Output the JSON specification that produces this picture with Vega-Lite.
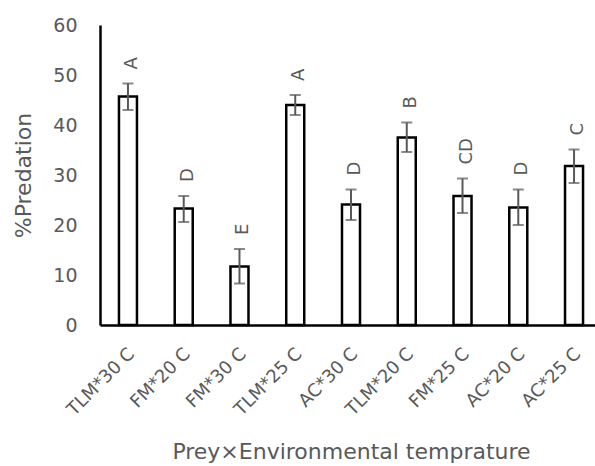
{
  "$schema": "https://vega.github.io/schema/vega-lite/v6.json",
  "width": 495,
  "height": 300,
  "autosize": {"type": "none"},
  "padding": {"left": 100, "top": 25, "right": 0, "bottom": 141},
  "background": "white",
  "config": {"view": {"stroke": null}, "font": "DejaVu Sans"},
  "data": {
    "values": [
      {"treatment": "TLM*30 C", "mean": 45.7, "lower": 43.0, "upper": 48.3, "group": "A"},
      {"treatment": "FM*20 C", "mean": 23.3, "lower": 20.6, "upper": 25.8, "group": "D"},
      {"treatment": "FM*30 C", "mean": 11.7, "lower": 8.3, "upper": 15.2, "group": "E"},
      {"treatment": "TLM*25 C", "mean": 44.0, "lower": 42.0, "upper": 46.0, "group": "A"},
      {"treatment": "AC*30 C", "mean": 24.1, "lower": 21.0, "upper": 27.1, "group": "D"},
      {"treatment": "TLM*20 C", "mean": 37.5, "lower": 34.6, "upper": 40.5, "group": "B"},
      {"treatment": "FM*25 C", "mean": 25.8, "lower": 22.4, "upper": 29.3, "group": "CD"},
      {"treatment": "AC*20 C", "mean": 23.5, "lower": 20.0, "upper": 27.1, "group": "D"},
      {"treatment": "AC*25 C", "mean": 31.8, "lower": 28.4, "upper": 35.1, "group": "C"}
    ]
  },
  "encoding": {
    "x": {
      "field": "treatment",
      "type": "nominal",
      "sort": null,
      "scale": {"range": [0, 502], "paddingInner": 0.677, "paddingOuter": 0.34},
      "axis": {
        "title": "Prey×Environmental temprature",
        "titleFont": "DejaVu Sans",
        "titleFontSize": 22,
        "titleFontWeight": "normal",
        "titleColor": "#595959",
        "titleX": 251,
        "titleY": 133,
        "titleBaseline": "alphabetic",
        "titleAlign": "center",
        "labelAngle": -45,
        "labelAlign": "right",
        "labelBaseline": "middle",
        "labelFontSize": 18,
        "labelColor": "#595959",
        "labelPadding": 26,
        "labelOffset": 4,
        "ticks": false,
        "domainColor": "#000000",
        "domainWidth": 2.5,
        "grid": false
      }
    }
  },
  "layer": [
    {
      "mark": {"type": "bar", "fill": "white", "stroke": "black", "strokeWidth": 2.5},
      "encoding": {
        "y": {
          "field": "mean",
          "type": "quantitative",
          "scale": {"domain": [0, 60]},
          "axis": {
            "title": "%Predation",
            "titleFontSize": 22,
            "titleFontWeight": "normal",
            "titleColor": "#595959",
            "titleX": -77,
            "titleY": 150,
            "titleAngle": 270,
            "titleAlign": "center",
            "titleBaseline": "middle",
            "values": [0, 10, 20, 30, 40, 50, 60],
            "labelFontSize": 19,
            "labelColor": "#595959",
            "labelPadding": 23,
            "ticks": false,
            "grid": false,
            "domainColor": "#000000",
            "domainWidth": 2.5
          }
        }
      }
    },
    {
      "mark": {"type": "rule", "color": "#595959", "strokeWidth": 2},
      "encoding": {
        "y": {"field": "lower", "type": "quantitative", "scale": {"domain": [0, 60]}},
        "y2": {"field": "upper"}
      }
    },
    {
      "mark": {"type": "tick", "color": "#595959", "size": 11, "thickness": 2},
      "encoding": {
        "y": {"field": "upper", "type": "quantitative", "scale": {"domain": [0, 60]}}
      }
    },
    {
      "mark": {"type": "tick", "color": "#595959", "size": 11, "thickness": 2},
      "encoding": {
        "y": {"field": "lower", "type": "quantitative", "scale": {"domain": [0, 60]}}
      }
    },
    {
      "mark": {"type": "text", "angle": 270, "align": "left", "baseline": "middle", "dx": 14, "dy": 4, "fontSize": 18, "color": "#595959"},
      "encoding": {
        "y": {"field": "upper", "type": "quantitative", "scale": {"domain": [0, 60]}},
        "text": {"field": "group"}
      }
    }
  ]
}
